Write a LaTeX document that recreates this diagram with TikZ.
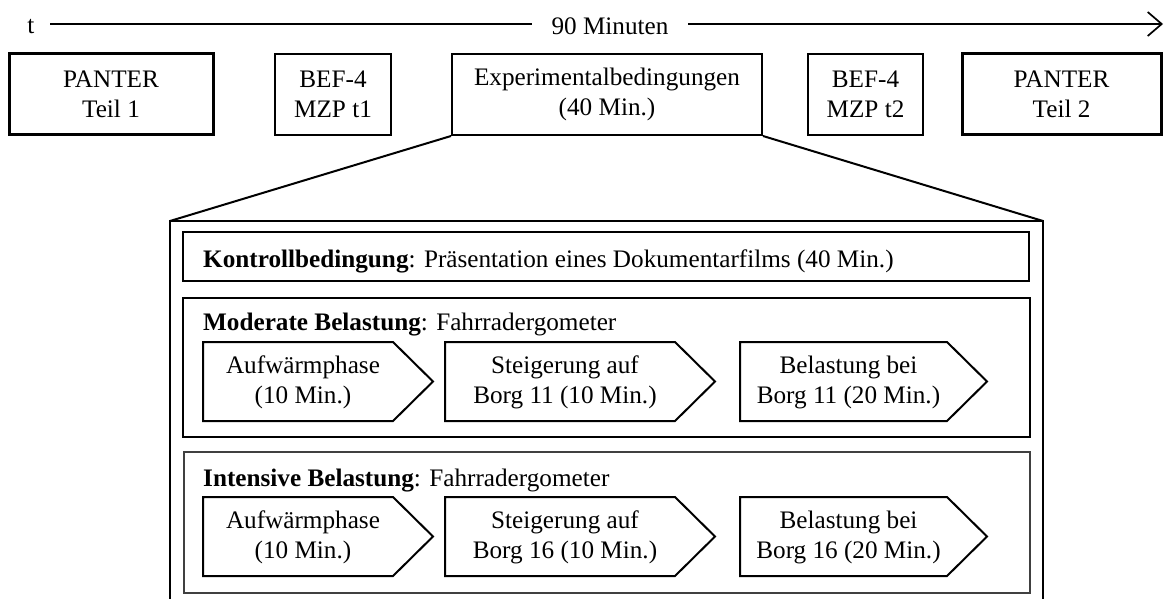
\documentclass[tikz,border=0pt]{standalone}
\usepackage{fontspec}
\setmainfont{Liberation Serif}
\usetikzlibrary{arrows.meta}
\newcommand\mychev[6]{%
  \draw[chevline] (#2,#5) -- (#3,#5) -- (#4,{#5+39.5}) -- (#3,{#5+79}) -- (#2,{#5+79}) -- cycle;
  \node[chevtxt] (#1) at ({(#2+#3)/2+5},{#5+40}) {#6};
}
\begin{document}
\begin{tikzpicture}[x=1pt,y=-1pt,
  basefont/.style={font=\fontsize{25.2}{30}\selectfont},
  topbox/.style={basefont, draw, line width=2pt, minimum height=81pt, inner sep=0pt, align=center},
  thickbox/.style={topbox, line width=3pt},
  chevline/.style={line width=2pt, line join=miter},
  chevtxt/.style={basefont, inner sep=0pt, align=center},
  lbl/.style={basefont, inner sep=0pt, anchor=base west},
  timeline/.style={line width=1.7pt},
  panel/.style={draw, line width=2pt}
]
\useasboundingbox (0,0) rectangle (1164,599);

% time axis
\node[basefont, inner sep=0pt, anchor=base] (tl) at (31,34) {t};
\node[basefont, inner sep=0pt, anchor=base] (m90) at (610,35) {90 Minuten};
\coordinate (a0) at (50,24);
\coordinate (a1) at (532,24);
\coordinate (a2) at (688,24);
\coordinate (a3) at (1163,24);
\draw[timeline] (a0) -- (a1);
\draw[timeline, -{Straight Barb[length=14pt,width=24pt,line width=1.7pt]}] (a2) -- (a3);

% top row
\node[thickbox, minimum width=204pt] (p1) at (111,94.5) {PANTER\\Teil 1};
\node[topbox, minimum width=116pt] (b1) at (333,94.5) {BEF-4\\MZP t1};
\node[topbox, minimum width=310pt] (exp) at (607,94.5) {Experimentalbedingungen\\(40 Min.)};
\node[topbox, minimum width=115pt] (b2) at (865.5,94.5) {BEF-4\\MZP t2};
\node[thickbox, minimum width=199pt] (p2) at (1061.5,94.5) {PANTER\\Teil 2};

% expanded panel
\coordinate (bl) at (170,600);
\coordinate (tlc) at (170,221);
\coordinate (trc) at (1043,221);
\coordinate (br) at (1043,600);
\draw[panel, line join=miter] (bl) -- (tlc) -- (trc) -- (br);
\draw[line width=2pt] (exp.south west) -- (tlc);
\draw[line width=2pt] (exp.south east) -- (trc);

% Kontrollbedingung
\draw[panel] (183,232) rectangle (1029,281);
\node[lbl] (kon) at (203,267) {\textbf{Kontrollbedingung}: Präsentation eines Dokumentarfilms (40 Min.)};

% Moderate
\draw[draw, line width=2.5pt] (183,298) rectangle (1030,437);
\node[lbl] (mod) at (203,330) {\textbf{Moderate Belastung}: Fahrradergometer};
\mychev{m1}{203}{393}{433}{342}{Aufwärmphase\\(10 Min.)}
\mychev{m2}{445}{675}{715}{342}{Steigerung auf\\Borg 11 (10 Min.)}
\mychev{m3}{740}{947}{987}{342}{Belastung bei\\Borg 11 (20 Min.)}

% Intensive
\draw[draw=black!75, line width=1.2pt] (184,452) rectangle (1030,593);
\node[lbl] (int) at (203,486) {\textbf{Intensive Belastung}: Fahrradergometer};
\mychev{i1}{203}{393}{433}{497}{Aufwärmphase\\(10 Min.)}
\mychev{i2}{445}{675}{715}{497}{Steigerung auf\\Borg 16 (10 Min.)}
\mychev{i3}{740}{947}{987}{497}{Belastung bei\\Borg 16 (20 Min.)}
\end{tikzpicture}
\end{document}
